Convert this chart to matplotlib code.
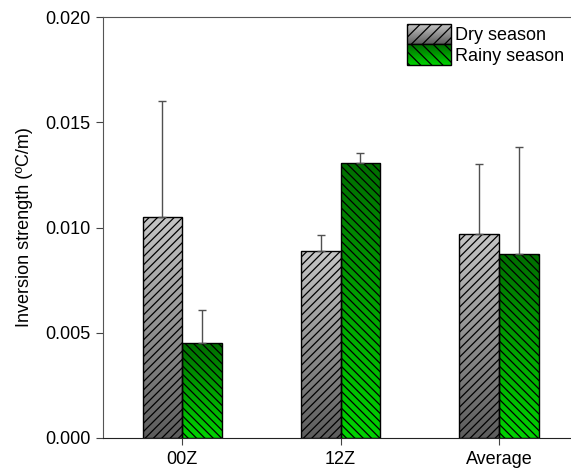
import numpy as np
import matplotlib
matplotlib.use('Agg')
import matplotlib.pyplot as plt
from matplotlib.patches import Rectangle
from matplotlib.legend_handler import HandlerPatch
from matplotlib.colors import LinearSegmentedColormap

plt.rcParams['font.family'] = ['Liberation Sans', 'DejaVu Sans']
plt.rcParams['font.size'] = 13
plt.rcParams['hatch.linewidth'] = 0.9

categories = ['00Z', '12Z', 'Average']
dry = [0.0105, 0.00888, 0.00970]
dry_err = [0.0055, 0.00076, 0.00332]
rainy = [0.00450, 0.01306, 0.00876]
rainy_err = [0.00160, 0.00048, 0.00506]
series_names = ['Dry season', 'Rainy season']

# gradient colours (bottom -> top)
dry_cmap = LinearSegmentedColormap.from_list('dry', ['#5c5c5c', '#c6c6c6'])
rainy_cmap = LinearSegmentedColormap.from_list('rainy', ['#00d200', '#006e00'])

fig = plt.figure(figsize=(5.71, 4.72), dpi=100)
ax = fig.add_axes([103 / 571, 1 - 438 / 472, 1 - 103 / 571, 421 / 472])

x = np.arange(len(categories))
w = 0.25
grad = np.linspace(0, 1, 256).reshape(-1, 1)


def gradient_bars(xs, vals, errs, cmap, hatch):
    bars = ax.bar(xs, vals, w, facecolor='none', edgecolor='black',
                  linewidth=1.0, hatch=hatch, zorder=3)
    for b in bars:
        x0, y0 = b.get_x(), b.get_y()
        im = ax.imshow(grad, cmap=cmap, aspect='auto', origin='lower',
                       extent=[x0, x0 + b.get_width(), y0, y0 + b.get_height()],
                       zorder=2)
        im.set_clip_path(b)
    ax.errorbar(xs, vals, yerr=[np.zeros(len(vals)), errs], fmt='none',
                ecolor='#505050', elinewidth=1.0, capsize=3, capthick=1.0, zorder=4)
    return bars


gradient_bars(x - w / 2, dry, dry_err, dry_cmap, '////')
gradient_bars(x + w / 2, rainy, rainy_err, rainy_cmap, '\\\\\\\\')

ax.set_xlim(-0.5, (571 - 182) / 158.5)
ax.set_ylim(0, 0.02)
ax.set_xticks(x)
ax.set_xticklabels(categories)
ax.set_yticks([0, 0.005, 0.01, 0.015, 0.02])
ax.set_yticklabels(['0.000', '0.005', '0.010', '0.015', '0.020'])
ax.tick_params(direction='out', length=5, width=0.8, color='#444444', labelsize=13, pad=4)
ax.set_ylabel('Inversion strength (ºC/m)', fontsize=13, labelpad=9)
ax.spines['right'].set_visible(False)
for s in ['left', 'top']:
    ax.spines[s].set_color('#555555')
ax.spines['bottom'].set_color('#222222')


class GradientHandler(HandlerPatch):
    def __init__(self, cmap, hatch):
        super().__init__()
        self.cmap = cmap
        self.hatch = hatch

    def create_artists(self, legend, orig_handle, xdescent, ydescent,
                       width, height, fontsize, trans):
        arts = []
        n = 20
        for i in range(n):
            r = Rectangle((-xdescent, -ydescent + height * i / n), width, height / n + 0.3,
                          facecolor=self.cmap((i + 0.5) / n), edgecolor='none',
                          transform=trans)
            arts.append(r)
        arts.append(Rectangle((-xdescent, -ydescent), width, height, facecolor='none',
                              edgecolor='black', hatch=self.hatch, linewidth=1.0,
                              transform=trans))
        return arts


h1 = Rectangle((0, 0), 1, 1)
h2 = Rectangle((0, 0), 1, 1)
ax.legend([h1, h2], series_names, loc='upper right', frameon=False,
          bbox_to_anchor=(1.0, 1.0), handlelength=2.45, handleheight=1.35,
          handletextpad=0.2, labelspacing=0.0, borderaxespad=0.2, borderpad=0.2,
          fontsize=13,
          handler_map={h1: GradientHandler(dry_cmap, '///'),
                       h2: GradientHandler(rainy_cmap, '\\\\\\')})

fig.savefig('out.png', dpi=100)
